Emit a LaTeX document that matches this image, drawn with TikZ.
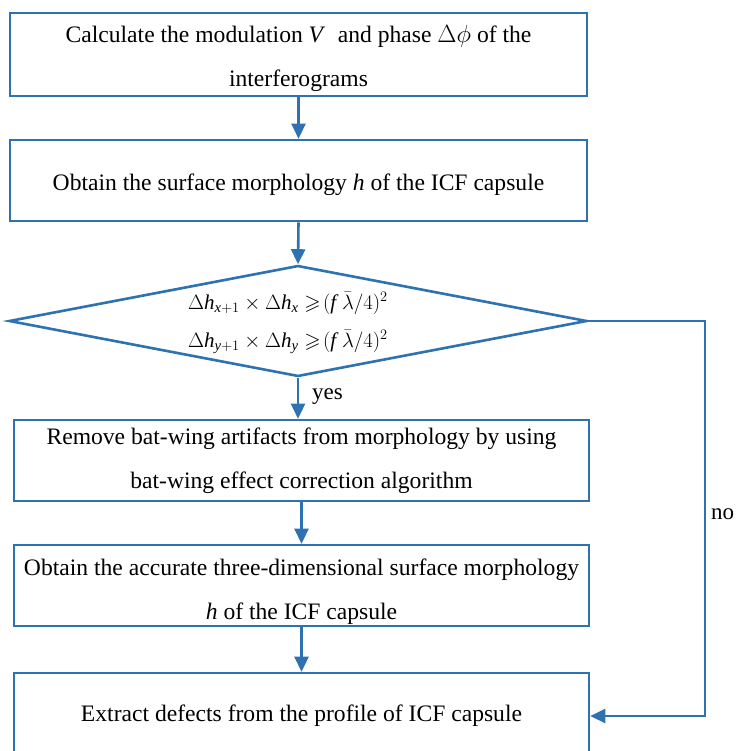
\documentclass[tikz,border=0pt]{standalone}
\usepackage{amsmath,amssymb}
\usepackage{fontspec}
\setmainfont{Liberation Serif}
\usetikzlibrary{arrows.meta,shapes.geometric}
\definecolor{flowblue}{RGB}{46,114,178}
\begin{document}
\begin{tikzpicture}[x=1pt,y=-1pt,
  box/.style={draw=flowblue, line width=2.6pt, rectangle, inner sep=0pt, align=center,
    font=\fontsize{23.6}{44}\selectfont, text=black},
  decision/.style={draw=flowblue, line width=2.6pt, diamond, inner sep=0pt,
    minimum width=578pt, minimum height=111pt},
  conn/.style={draw=flowblue, line width=2.6pt, -{Triangle[length=15pt,width=14pt]}},
  lbl/.style={font=\fontsize{23}{26}\selectfont, text=black, inner sep=0pt}]
\useasboundingbox (0,0) rectangle (737,751);
\clip (0,0) rectangle (737,751);
\node[box, minimum width=577pt, minimum height=83pt] (b1) at (298.5,54.5)
  {\rule{0pt}{26pt}Calculate the modulation \textit{V}\; and phase $\Delta\phi$ of the\\ interferograms};
\node[box, minimum width=577pt, minimum height=81pt] (b2) at (298.5,180.5)
  {\rule{0pt}{26pt}Obtain the surface morphology \textit{h} of the ICF capsule};
\node[decision] (d) at (298,321) {};
\node[font=\fontsize{21}{38}\selectfont, align=center, inner sep=0pt, text=black] (f) at (288,323)
  {$\Delta\textit{h}_{\textit{x}+1}\times\Delta\textit{h}_{\textit{x}}\geqslant\!(\textit{f}\;\bar{\lambda}/4)^2$\\
   $\Delta\textit{h}_{\textit{y}+1}\times\Delta\textit{h}_{\textit{y}}\geqslant\!(\textit{f}\;\bar{\lambda}/4)^2$};
\node[box, minimum width=575pt, minimum height=81pt] (b3) at (301.5,460.5)
  {Remove bat-wing artifacts from morphology by using\\ bat-wing effect correction algorithm};
\node[box, minimum width=575pt, minimum height=81pt] (b4) at (301.5,585.5)
  {\rule{0pt}{30pt}Obtain the accurate three-dimensional surface morphology\\ \textit{h} of the ICF capsule};
\node[box, minimum width=575pt, minimum height=86pt] (b5) at (301.5,716)
  {Extract defects from the profile of ICF capsule};
\draw[conn] (b1.south) -- (b2.north);
\draw[conn] (b2.south) -- (d.north);
\draw[conn] (d.south) -- (d.south |- b3.north);
\draw[conn] (b3.south) -- (b4.north);
\draw[conn] (b4.south) -- (b5.north);
\coordinate (nr) at (705,321);
\draw[conn] (d.east) -- (nr) |- (b5.east);
\node[lbl, anchor=west] (yes) at (312,397) {yes};
\node[lbl, anchor=west] (no) at (711,514) {no};
\end{tikzpicture}
\end{document}
